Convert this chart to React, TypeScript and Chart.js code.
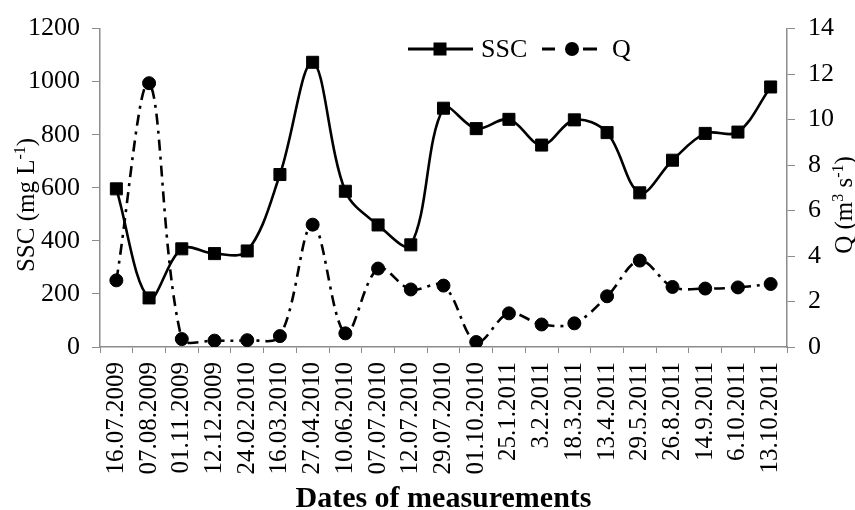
import { useEffect, useRef } from "react";
import { Chart, registerables } from "chart.js";

Chart.register(...registerables);

const dates = [
  "16.07.2009", "07.08.2009", "01.11.2009", "12.12.2009", "24.02.2010",
  "16.03.2010", "27.04.2010", "10.06.2010", "07.07.2010", "12.07.2010",
  "29.07.2010", "01.10.2010", "25.1.2011", "3.2.2011", "18.3.2011",
  "13.4.2011", "29.5.2011", "26.8.2011", "14.9.2011", "6.10.2011", "13.10.2011",
];

const sscValues = [
  596, 185, 370, 352, 362, 650, 1073, 587, 460, 385,
  900, 823, 858, 761, 856, 808, 581, 704, 805, 810, 980,
];

const qValues = [
  2.93, 11.6, 0.35, 0.28, 0.3, 0.48, 5.38, 0.6, 3.45, 2.53,
  2.7, 0.22, 1.48, 0.99, 1.04, 2.23, 3.8, 2.64, 2.57, 2.62, 2.77,
];

const sscAxis = { min: 0, max: 1200, step: 200 };
const qAxis = { min: 0, max: 14, step: 2 };

const FONT = "'Liberation Serif', 'Times New Roman', serif";
const AXIS = "#8c8c8c";

type Part = { t: string; sup?: boolean };

function drawRich(
  ctx: CanvasRenderingContext2D,
  parts: Part[],
  x: number,
  y: number,
  rot: number,
  size: number
) {
  ctx.save();
  ctx.translate(x, y);
  ctx.rotate(rot);
  ctx.textAlign = "left";
  ctx.textBaseline = "alphabetic";
  ctx.fillStyle = "#000";
  const supSize = Math.round(size * 0.62);
  let total = 0;
  const widths = parts.map((p) => {
    ctx.font = `${p.sup ? supSize : size}px ${FONT}`;
    const w = ctx.measureText(p.t).width;
    total += w;
    return w;
  });
  let cx = -total / 2;
  parts.forEach((p, i) => {
    ctx.font = `${p.sup ? supSize : size}px ${FONT}`;
    ctx.fillText(p.t, cx, p.sup ? -size * 0.36 : 0);
    cx += widths[i];
  });
  ctx.restore();
}

const overlay = {
  id: "overlay",
  afterDraw(chart: any) {
    const ctx: CanvasRenderingContext2D = chart.ctx;
    const area = chart.chartArea;
    const midY = 205;
    // axis titles
    drawRich(ctx, [{ t: "SSC (mg L" }, { t: "-1", sup: true }, { t: ")" }], 34, midY, -Math.PI / 2, 25);
    drawRich(
      ctx,
      [{ t: "Q (m" }, { t: "3", sup: true }, { t: " s" }, { t: "-1", sup: true }, { t: ")" }],
      852,
      midY,
      -Math.PI / 2,
      25
    );
    ctx.save();
    ctx.font = `bold 30px ${FONT}`;
    ctx.fillStyle = "#000";
    ctx.textAlign = "center";
    ctx.textBaseline = "alphabetic";
    ctx.fillText("Dates of measurements", (area.left + area.right) / 2, 507);
    ctx.restore();

    // legend
    const ly = 49;
    ctx.save();
    ctx.strokeStyle = "#000";
    ctx.fillStyle = "#000";
    ctx.lineWidth = 3;
    ctx.beginPath();
    ctx.moveTo(408, ly);
    ctx.lineTo(473, ly);
    ctx.stroke();
    ctx.fillRect(440 - 6.5, ly - 6.5, 13, 13);
    ctx.beginPath();
    ctx.moveTo(542, ly);
    ctx.lineTo(555, ly);
    ctx.moveTo(583, ly);
    ctx.lineTo(597, ly);
    ctx.stroke();
    ctx.beginPath();
    ctx.arc(572, ly, 7, 0, Math.PI * 2);
    ctx.fill();
    ctx.font = `26px ${FONT}`;
    ctx.textBaseline = "middle";
    ctx.textAlign = "left";
    ctx.fillText("SSC", 481, ly + 1);
    ctx.fillText("Q", 612, ly + 1);
    ctx.restore();
  },
};

const plain = (v: any) => String(v);

export default function App() {
  const ref = useRef<HTMLCanvasElement | null>(null);

  useEffect(() => {
    if (!ref.current) return;
    Chart.defaults.font.family = FONT;
    const chart = new Chart(ref.current, {
      type: "line",
      data: {
        labels: dates,
        datasets: [
          {
            label: "SSC",
            data: sscValues,
            yAxisID: "y",
            borderColor: "#000",
            backgroundColor: "#000",
            borderWidth: 2.6,
            pointStyle: "rect",
            pointRadius: 8.5,
            pointBorderWidth: 1,
            tension: 0.35,
            order: 1,
          },
          {
            label: "Q",
            data: qValues,
            yAxisID: "y1",
            borderColor: "#000",
            backgroundColor: "#000",
            borderWidth: 2.6,
            borderDash: [11, 6, 3, 6],
            pointStyle: "circle",
            pointRadius: 6.5,
            pointBorderWidth: 1,
            tension: 0.35,
            order: 0,
          },
        ],
      },
      options: {
        animation: false,
        responsive: true,
        maintainAspectRatio: false,
        layout: { padding: { top: 27, left: 0, right: 0, bottom: 0 } },
        plugins: { legend: { display: false }, tooltip: { enabled: false } },
        scales: {
          x: {
            offset: true,
            grid: {
              offset: true,
              drawOnChartArea: false,
              drawTicks: true,
              tickLength: 6,
              color: AXIS,
            },
            border: { display: true, color: AXIS, width: 1.5 },
            ticks: {
              autoSkip: false,
              minRotation: 90,
              maxRotation: 90,
              padding: 9,
              color: "#000",
              font: { size: 25, family: FONT },
            },
            afterFit: (s: any) => {
              s.height = 163;
            },
          },
          y: {
            position: "left",
            min: sscAxis.min,
            max: sscAxis.max,
            grid: { drawOnChartArea: false, drawTicks: true, tickLength: 8, color: AXIS },
            border: { display: true, color: AXIS, width: 1.5 },
            ticks: {
              stepSize: sscAxis.step,
              padding: 12,
              color: "#000",
              font: { size: 26, family: FONT },
              callback: plain,
            },
            afterFit: (s: any) => {
              s.width = 100;
            },
          },
          y1: {
            position: "right",
            min: qAxis.min,
            max: qAxis.max,
            grid: { drawOnChartArea: false, drawTicks: true, tickLength: 8, color: AXIS },
            border: { display: true, color: AXIS, width: 1.5 },
            ticks: {
              stepSize: qAxis.step,
              padding: 13,
              color: "#000",
              font: { size: 26, family: FONT },
              callback: plain,
            },
            afterFit: (s: any) => {
              s.width = 68;
            },
          },
        },
      },
      plugins: [overlay],
    });
    return () => chart.destroy();
  }, []);

  return (
    <div style={{ position: "absolute", left: 0, top: 0, width: 855, height: 510, background: "#fff" }}>
      <canvas ref={ref} />
    </div>
  );
}
